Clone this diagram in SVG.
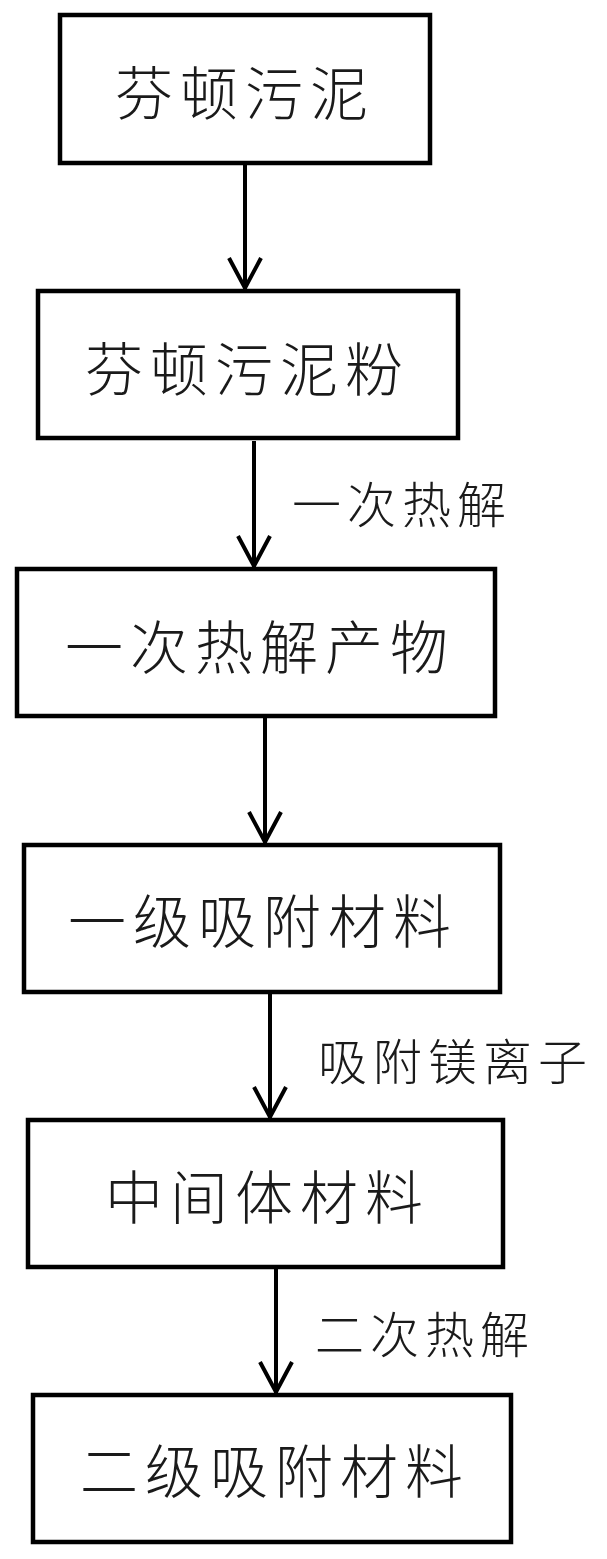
<svg xmlns="http://www.w3.org/2000/svg" width="607" height="1559" viewBox="0 0 607 1559">
<style>
.box{fill:#fff;stroke:#000;stroke-width:4.5}
.t{font-family:"Noto Sans CJK SC","Noto Sans",sans-serif;font-size:58px;font-weight:300;letter-spacing:7px;fill:#1a1a1a;dominant-baseline:central}
.l{font-family:"Noto Sans CJK SC","Noto Sans",sans-serif;font-size:49px;font-weight:300;letter-spacing:6px;fill:#1a1a1a;dominant-baseline:central}
.c{stroke:#000;stroke-width:4;fill:none}
</style>
<rect width="607" height="1559" fill="#fff"/>
<g id="connectors">
<path class="c" d="M245 163V289M229 258L245 288L261 258"/>
<path class="c" d="M254 441V567M238 536L254 566L270 536"/>
<path class="c" d="M265 716V843M249 812L265 842L281 812"/>
<path class="c" d="M270 992V1118M254 1087L270 1117L286 1087"/>
<path class="c" d="M276 1267V1393M260 1362L276 1392L292 1362"/>
<text class="l" x="292" y="501">一次热解</text>
<text class="l" x="318" y="1058">吸附镁离子</text>
<text class="l" x="315" y="1331">二次热解</text>
</g>
<g id="n1"><rect class="box" x="60" y="15" width="370" height="148"/><text class="t" x="115" y="90">芬顿污泥</text></g>
<g id="n2"><rect class="box" x="38" y="291" width="420" height="147"/><text class="t" x="85" y="366">芬顿污泥粉</text></g>
<g id="n3"><rect class="box" x="17" y="569" width="478" height="147"/><text class="t" x="65" y="644">一次热解产物</text></g>
<g id="n4"><rect class="box" x="24" y="845" width="476" height="147"/><text class="t" x="68" y="918">一级吸附材料</text></g>
<g id="n5"><rect class="box" x="28" y="1120" width="475" height="147"/><text class="t" x="105" y="1194">中间体材料</text></g>
<g id="n6"><rect class="box" x="33" y="1395" width="478" height="147"/><text class="t" x="80" y="1468">二级吸附材料</text></g>
</svg>
